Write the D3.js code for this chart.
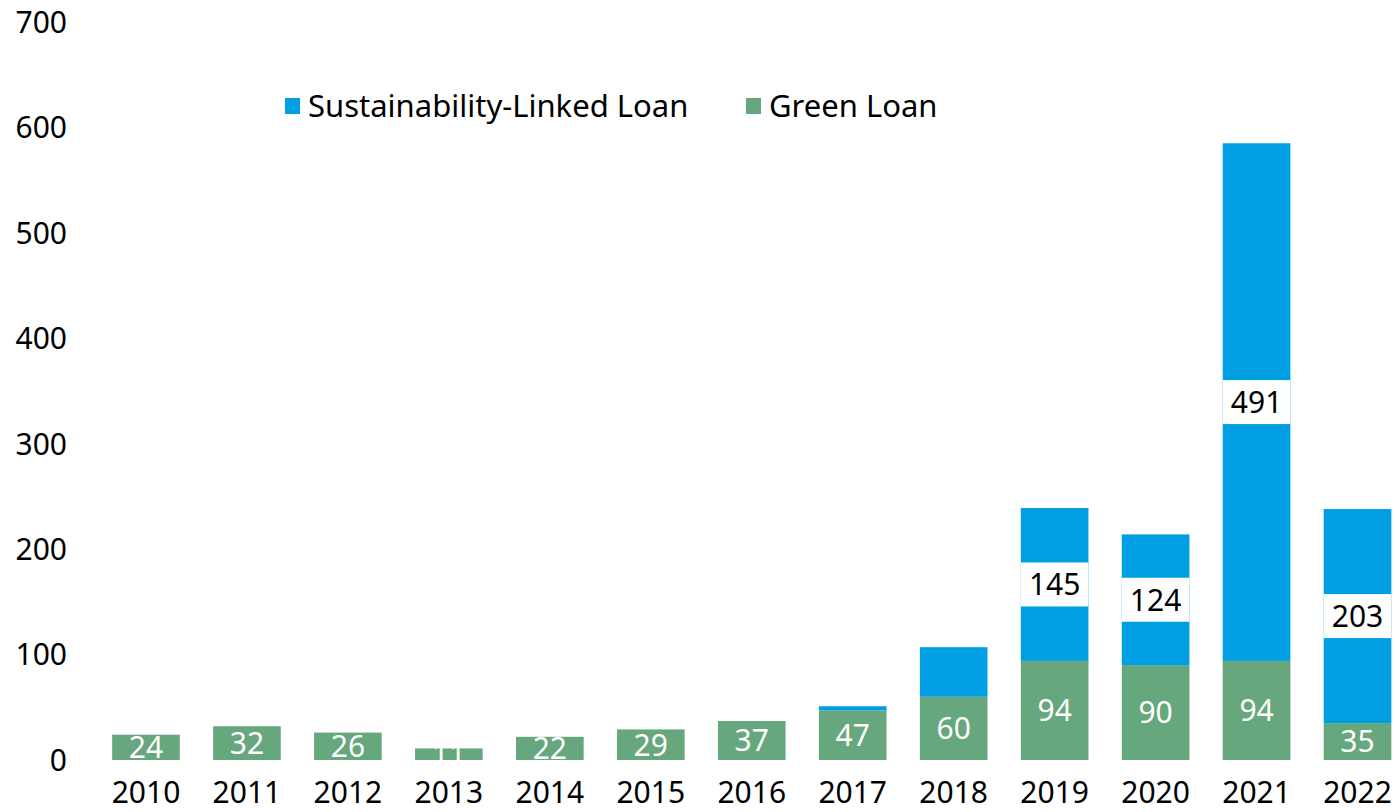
<!DOCTYPE html>
<html><head><meta charset="utf-8">
<script src="https://cdn.jsdelivr.net/npm/d3@7"></script>
<style>html,body{margin:0;padding:0;background:#fff;overflow:hidden}</style>
</head><body>
<svg id="c" width="1395" height="812"></svg>
<script>
const years = ["2010","2011","2012","2013","2014","2015","2016","2017","2018","2019","2020","2021","2022"];
const greenLoan = [24,32,26,11,22,29,37,47,60,94,90,94,35];
const sustLinked = [0,0,0,0,0,0,0,4,47,145,124,491,203];
const yTicks = [0,100,200,300,400,500,600,700];
const labelledSLL = ["2019","2020","2021","2022"];

const BLUE = "#009fe3", GREEN = "#66a77d";
const FONT = "'Noto Sans', sans-serif";
const svg = d3.select("#c");
const x = d3.scaleBand().domain(years).range([95.5, 1408]).paddingInner(0.33).paddingOuter(0.165);
const y = d3.scaleLinear().domain([0,700]).range([760,22]);

// y tick labels
svg.append("g").selectAll("text").data(yTicks).join("text")
  .attr("x", 67).attr("y", d => y(d)).attr("dy","0.36em")
  .attr("text-anchor","end").attr("font-family",FONT).attr("font-size",30).attr("fill","#000")
  .text(d => d);

// year labels
svg.append("g").selectAll("text").data(years).join("text")
  .attr("x", d => x(d)+x.bandwidth()/2).attr("y", 803)
  .attr("text-anchor","middle").attr("font-family",FONT).attr("font-size",30).attr("fill","#000")
  .text(d => d);

const data = years.map((yr,i)=>({yr, g:greenLoan[i], s:sustLinked[i]}));

// green bars
svg.append("g").selectAll("rect").data(data).join("rect")
  .attr("x", d => x(d.yr)).attr("width", x.bandwidth())
  .attr("y", d => y(d.g)).attr("height", d => y(0)-y(d.g)).attr("fill", GREEN);
// blue bars
svg.append("g").selectAll("rect").data(data.filter(d=>d.s>0)).join("rect")
  .attr("x", d => x(d.yr)).attr("width", x.bandwidth())
  .attr("y", d => y(d.g+d.s)).attr("height", d => y(d.g)-y(d.g+d.s)).attr("fill", BLUE);

// green labels (white)
svg.append("g").selectAll("text").data(data).join("text")
  .attr("x", d => x(d.yr)+x.bandwidth()/2).attr("y", d => y(d.g/2)).attr("dy","0.36em")
  .attr("text-anchor","middle").attr("font-family",FONT).attr("font-size",30).attr("fill","#fff")
  .text(d => d.g);

// SLL labels with white box
const lab = svg.append("g").selectAll("g").data(data.filter(d=>labelledSLL.includes(d.yr))).join("g");
lab.append("rect")
  .attr("x", d => x(d.yr)).attr("width", x.bandwidth())
  .attr("y", d => y(d.g + d.s/2) - 22).attr("height", 44).attr("fill","#fff");
lab.append("text")
  .attr("x", d => x(d.yr)+x.bandwidth()/2).attr("y", d => y(d.g + d.s/2)).attr("dy","0.36em")
  .attr("text-anchor","middle").attr("font-family",FONT).attr("font-size",30).attr("fill","#000")
  .text(d => d.s);

// legend
const legend = [{name:"Sustainability-Linked Loan", color:BLUE, x:285},{name:"Green Loan", color:GREEN, x:746}];
const lg = svg.append("g").selectAll("g").data(legend).join("g");
lg.append("rect").attr("x", d=>d.x).attr("y", 98).attr("width", 15).attr("height", 16).attr("fill", d=>d.color);
lg.append("text").attr("x", d=>d.x+23).attr("y", 106).attr("dy","0.36em")
  .attr("font-family",FONT).attr("font-size",31).attr("fill","#000").text(d=>d.name);
</script>
</body></html>
